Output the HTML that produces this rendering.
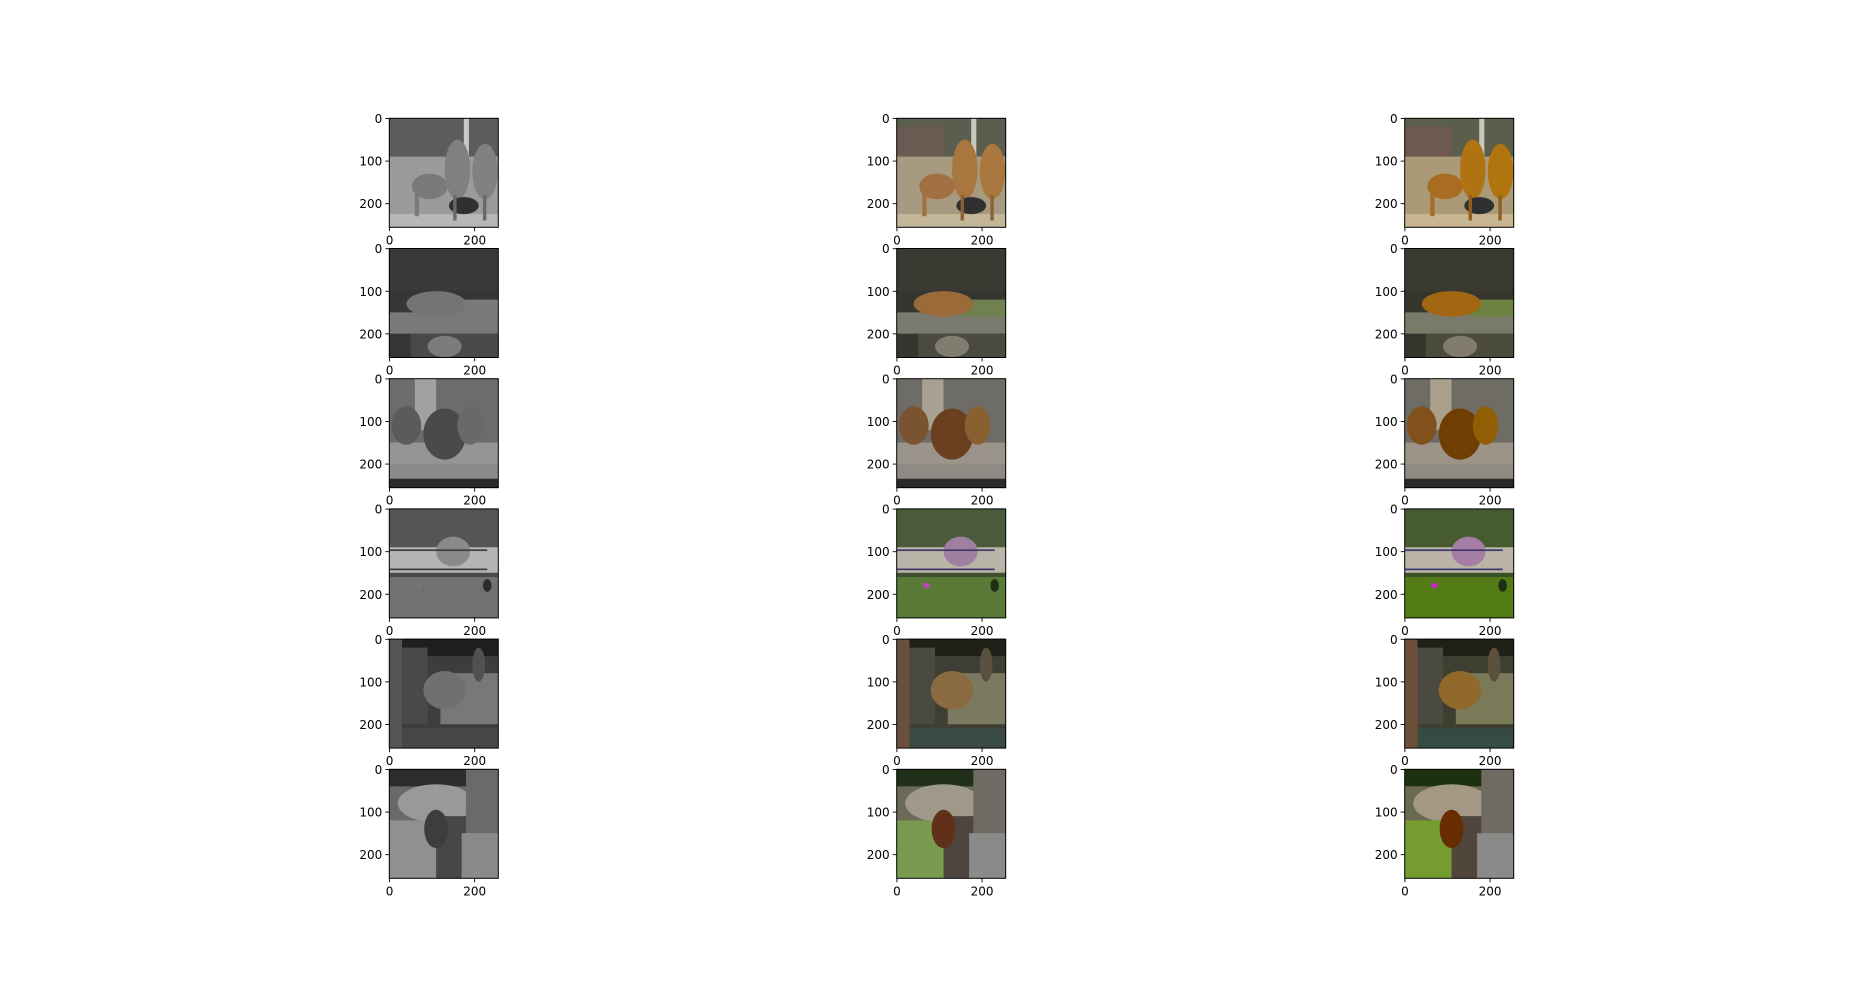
<!DOCTYPE html>
<html><head><meta charset="utf-8">
<style>
html,body{margin:0;padding:0;background:#fff;}
svg{display:block;font-family:"DejaVu Sans","Liberation Sans",sans-serif;}
</style></head>
<body>
<svg id="fig" width="1855" height="986" viewBox="0 0 1855 986">
<defs>
<filter id="gray"><feColorMatrix type="saturate" values="0"/></filter>
<filter id="sat"><feColorMatrix type="saturate" values="1.25"/></filter>
</defs>
</svg>
<script>
const colLefts = [389.3, 896.7, 1404.7];
const rowTops = [118.3, 248.5, 378.7, 508.9, 639.1, 769.3];
const imgSize = 256;
const xTicks = [0, 200];
const yTicks = [0, 100, 200];
const colNames = ['grayscale-input', 'colorized-output', 'ground-truth'];
const rowNames = ['giraffes', 'tiger', 'bears', 'elephant-garden', 'elephants', 'orangutan'];
const S = 109;
const NS = 'http://www.w3.org/2000/svg';
const fig = document.getElementById('fig');

// scene shapes in 256 image coords: [kind,x,y,w,h,color]
const scenes = [
 [['r',0,0,256,256,'#8a8270'],['r',0,0,256,90,'#5b5e4e'],['r',0,20,110,70,'#6a5a52'],['r',0,90,256,140,'#a89a80'],['r',0,225,256,31,'#c4b698'],['r',175,0,12,110,'#c8c8c0'],
  ['e',95,160,42,30,'#a07040'],['e',160,120,30,70,'#a8763e'],['e',225,125,30,65,'#a8783e'],['e',175,205,35,20,'#303030'],['r',60,170,10,60,'#a07040'],['r',150,180,8,60,'#8a6038'],['r',220,180,8,60,'#8a6038']],
 [['r',0,0,256,256,'#363630'],['r',0,0,256,100,'#3a3a32'],['r',0,150,256,50,'#7a7a6e'],['r',150,120,106,40,'#708050'],['e',110,130,70,30,'#9a6a38'],['r',50,200,206,56,'#4a4a40'],['e',130,230,40,25,'#807c70']],
 [['r',0,0,256,256,'#6e6c66'],['r',60,0,50,120,'#a8a090'],['r',0,150,256,60,'#9a948a'],['e',40,110,35,45,'#7a5330'],['e',130,130,50,60,'#6a4020'],['e',190,110,30,45,'#8a6030'],['r',0,200,256,56,'#8e8a84'],['r',0,235,256,21,'#2a2a28']],
 [['r',0,0,256,256,'#3e5030'],['r',0,0,256,90,'#4a5a3a'],['r',0,90,256,60,'#b8b4a8'],['e',150,100,40,35,'#a080a0'],['r',0,95,230,4,'#403868'],['r',0,140,230,4,'#403868'],['r',0,160,256,96,'#5a7a38'],['e',70,180,8,6,'#c040c0'],['e',230,180,10,15,'#203018']],
 [['r',0,0,256,256,'#3e3e34'],['r',0,0,256,40,'#202018'],['r',0,0,30,256,'#6a5040'],['r',30,20,60,180,'#4a4a42'],['r',120,80,136,120,'#7a7a60'],['e',130,120,50,45,'#8a6a40'],['e',210,60,15,40,'#5a5040'],['r',30,210,226,46,'#3a4a44']],
 [['r',0,0,256,256,'#6a6a58'],['r',0,0,256,40,'#203018'],['e',110,80,90,45,'#a09888'],['r',0,120,130,136,'#7a9a50'],['r',110,110,80,146,'#4e463e'],['r',180,0,76,256,'#6e6a64'],['r',170,150,86,106,'#8a8a88'],['e',110,140,28,45,'#603018']]
];

function el(tag, attrs, parent){const e=document.createElementNS(NS,tag);for(const k in attrs)e.setAttribute(k,attrs[k]);(parent||fig).appendChild(e);return e;}

colLefts.forEach((cx, c) => {
 rowTops.forEach((ty, r) => {
  const g = el('g', {});
  
  
  const sc = S / imgSize;
  const img = el('g', {transform:`translate(${cx},${ty}) scale(${sc})`}, g);
  if (c === 0) img.setAttribute('filter','url(#gray)');
  if (c === 2) img.setAttribute('filter','url(#sat)');
  
  
  scenes[r].forEach(s => {
   if (s[0]==='r') el('rect',{x:s[1],y:s[2],width:s[3],height:s[4],fill:s[5]},img);
   else el('ellipse',{cx:s[1],cy:s[2],rx:s[3],ry:s[4],fill:s[5]},img);
  });
  el('rect',{x:cx,y:ty,width:S,height:S,fill:'none',stroke:'#000','stroke-width':1},g);
  yTicks.forEach(v => {
   const y = ty + (v+0.5)/imgSize*S;
   el('line',{x1:cx-4,x2:cx,y1:y,y2:y,stroke:'#000','stroke-width':0.9},g);
   const t = el('text',{x:cx-7,y:y+4.5,'text-anchor':'end','font-size':12,fill:'#000'},g);
   t.textContent = v;
   
   
  });
  xTicks.forEach(v => {
   const x = cx + (v+0.5)/imgSize*S;
   el('line',{x1:x,x2:x,y1:ty+S,y2:ty+S+4,stroke:'#000','stroke-width':0.9},g);
   const t = el('text',{x:x,y:ty+S+17,'text-anchor':'middle','font-size':12,fill:'#000'},g);
   t.textContent = v;
   
   
  });
 });
});
</script>
</body></html>
